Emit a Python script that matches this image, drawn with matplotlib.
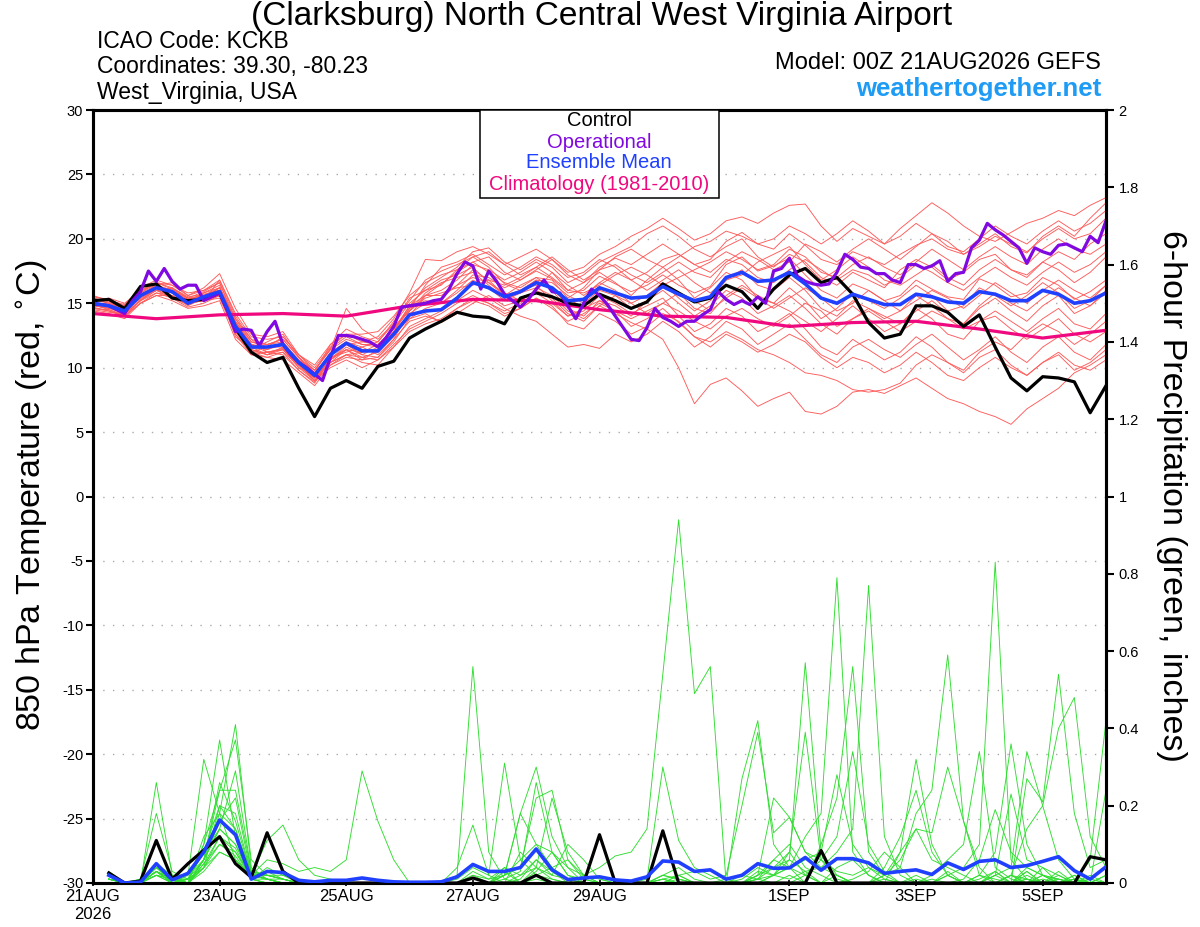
import numpy as np
import matplotlib
matplotlib.use('Agg')
import matplotlib.pyplot as plt
from matplotlib.patches import Rectangle

plt.rcParams['font.family'] = ['Liberation Sans', 'DejaVu Sans']
plt.rcParams['axes.unicode_minus'] = False

# Time axis: forecast hours from 00Z 21AUG2026
tick_hours = [0, 48, 96, 144, 192, 264, 312, 360]
tick_labels = ['21AUG\n2026', '23AUG', '25AUG', '27AUG', '29AUG', '1SEP', '3SEP', '5SEP']

# 850 hPa temperature, 6-hourly (65 values, 0h..384h)
control_t = [15.2, 15.3, 14.6, 16.3, 16.5, 15.4, 15.2, 15.3, 15.8, 13.1, 11.2, 10.4, 10.8, 8.4, 6.2, 8.4,
             9.0, 8.4, 10.1, 10.5, 12.3, 13.0, 13.6, 14.3, 14.0, 13.9, 13.4, 15.4, 15.8, 15.5, 15.0, 14.8,
             15.7, 15.2, 14.6, 15.1, 16.5, 15.8, 15.1, 15.4, 16.4, 15.9, 14.6, 16.1, 17.2, 17.7, 16.6, 17.0,
             15.7, 13.5, 12.3, 12.6, 14.8, 14.8, 14.3, 13.2, 14.1, 11.6, 9.2, 8.2, 9.3, 9.2, 8.9, 6.5, 8.6]

mean_t = [15.0, 14.8, 14.4, 15.6, 16.2, 15.9, 15.0, 15.5, 15.9, 13.2, 11.6, 11.6, 11.8, 10.4, 9.4, 11.0,
          11.9, 11.3, 11.3, 12.6, 14.1, 14.4, 14.5, 15.4, 16.6, 16.2, 15.5, 15.9, 16.6, 16.2, 15.2, 15.3,
          16.2, 15.8, 15.4, 15.5, 16.3, 15.7, 15.2, 15.5, 17.0, 17.4, 16.7, 16.8, 17.4, 16.5, 15.4, 15.0,
          15.7, 15.3, 14.9, 14.9, 15.7, 15.5, 15.1, 15.0, 15.9, 15.7, 15.2, 15.2, 16.0, 15.7, 15.0, 15.2, 15.8]

# operational run, 3-hourly (129 values)
oper_t = [14.9, 14.9, 14.8, 14.5, 14.2, 15.2, 15.9, 17.5, 16.7, 17.7, 16.7, 16.1, 16.4, 16.4, 15.2, 15.5,
          15.8, 14.4, 12.8, 13.0, 12.9, 11.7, 12.8, 13.6, 11.8, 11.0, 10.4, 10.0, 9.5, 9.0, 10.8, 12.5,
          12.5, 12.4, 12.2, 12.0, 11.6, 12.3, 13.2, 14.7, 14.8, 14.9, 15.0, 15.2, 15.3, 16.1, 17.3, 18.2,
          17.9, 16.1, 17.5, 16.7, 15.7, 15.2, 14.7, 15.3, 16.1, 16.8, 15.9, 15.8, 14.8, 13.8, 15.0, 16.1,
          15.6, 14.9, 14.0, 13.1, 12.2, 12.1, 13.1, 14.6, 13.9, 13.6, 13.2, 13.6, 13.6, 14.1, 14.5, 15.9,
          15.3, 14.9, 15.2, 14.9, 15.5, 15.0, 17.5, 17.7, 18.5, 17.1, 16.7, 16.5, 16.4, 16.5, 17.4, 18.8,
          18.4, 17.8, 17.7, 17.3, 17.3, 16.8, 16.6, 18.0, 18.0, 17.7, 17.9, 18.3, 16.7, 17.3, 17.4, 19.3,
          19.9, 21.2, 20.7, 20.3, 19.8, 19.3, 18.1, 19.3, 19.0, 18.8, 19.5, 19.6, 19.3, 19.0, 20.2, 19.7, 21.4]

# climatology, daily at 00Z (17 values)
clim_t = [14.2, 13.8, 14.1, 14.2, 14.0, 14.8, 15.3, 15.2, 14.5, 14.0, 13.9, 13.2, 13.5, 13.6, 13.0, 12.3, 12.9]

# ensemble members (6-hourly, 65 values each)
mem01 = [15.3, 15.0, 14.6, 15.8, 16.4, 16.0, 15.3, 15.6, 16.2, 13.8, 12.0, 11.8, 12.2, 10.8, 9.8, 11.5, 12.4,
         11.8, 11.6, 13.0, 14.6, 15.2, 15.0, 16.0, 17.2, 17.0, 16.2, 16.8, 17.5, 16.9, 15.8, 16.0, 17.1,
         16.5, 15.9, 16.4, 17.2, 16.4, 15.8, 16.3, 18.0, 18.6, 17.5, 17.9, 18.5, 17.2, 16.0, 15.4, 16.5,
         16.0, 15.2, 15.6, 16.8, 16.1, 15.5, 15.3, 16.9, 16.4, 15.5, 15.8, 17.0, 16.4, 15.3, 15.9, 16.8]
mem02 = [14.8, 14.6, 14.2, 15.2, 16.0, 16.2, 15.0, 15.2, 16.8, 14.0, 12.2, 11.2, 11.5, 10.2, 9.2, 10.4, 11.0,
         11.2, 11.8, 12.6, 14.0, 15.6, 16.5, 17.4, 18.2, 18.6, 17.4, 16.8, 17.6, 18.4, 17.2, 16.6, 17.8,
         18.5, 18.0, 18.8, 19.6, 18.8, 18.0, 18.4, 19.8, 20.5, 19.6, 19.2, 20.4, 19.5, 18.4, 18.0, 19.0,
         18.5, 18.0, 18.8, 19.5, 20.0, 19.2, 18.8, 19.6, 20.4, 19.4, 18.9, 20.2, 21.0, 20.2, 21.6, 22.8]
mem03 = [15.0, 14.8, 14.8, 16.0, 16.6, 16.1, 15.4, 15.2, 15.4, 12.6, 11.0, 11.2, 11.0, 9.8, 8.8, 10.6, 11.8,
         11.0, 10.8, 12.0, 13.8, 14.2, 13.5, 14.2, 15.0, 15.6, 14.8, 15.2, 16.0, 15.4, 14.2, 13.6, 14.8,
         14.2, 13.5, 13.0, 12.2, 10.0, 7.2, 8.7, 9.2, 8.2, 7.0, 7.6, 8.1, 6.6, 6.4, 7.0, 8.1,
         8.3, 8.0, 8.6, 9.2, 8.4, 7.6, 7.2, 6.6, 6.2, 5.6, 6.8, 7.6, 8.4, 9.6, 10.2, 11.0]
mem04 = [15.6, 15.2, 14.9, 16.2, 16.8, 16.4, 15.8, 16.0, 16.6, 13.5, 11.8, 11.4, 12.0, 10.6, 9.6, 11.8, 13.0,
         12.4, 12.0, 13.6, 15.2, 16.8, 17.5, 18.0, 18.6, 17.8, 16.5, 16.0, 16.4, 15.2, 14.0, 14.6, 15.2,
         14.4, 13.2, 13.8, 14.6, 13.5, 12.4, 12.0, 12.8, 12.2, 11.4, 11.0, 10.4, 9.6, 9.4, 9.0, 8.3,
         8.1, 8.3, 8.8, 10.2, 11.0, 10.4, 9.8, 11.2, 12.0, 11.4, 12.6, 13.4, 12.8, 11.8, 12.6, 13.6]
mem05 = [15.2, 15.4, 15.0, 16.0, 16.4, 16.6, 15.6, 16.2, 17.3, 14.6, 12.6, 12.4, 12.8, 11.0, 10.0, 11.6, 12.6,
         12.0, 12.4, 13.8, 15.8, 18.4, 18.3, 19.0, 19.4, 18.8, 18.0, 18.6, 19.2, 18.4, 17.4, 17.8, 18.8,
         19.4, 20.2, 20.8, 21.6, 20.8, 19.9, 20.4, 21.4, 21.7, 21.2, 22.0, 22.6, 22.7, 21.0, 19.8, 20.8,
         20.2, 19.6, 20.8, 21.8, 22.8, 22.0, 21.0, 20.2, 19.8, 20.5, 21.2, 21.6, 22.2, 21.8, 22.6, 23.2]
mem06 = [14.6, 14.5, 14.0, 15.0, 15.8, 15.6, 14.8, 15.4, 16.0, 13.4, 11.6, 11.0, 11.4, 10.4, 9.0, 10.8, 11.4,
         10.6, 11.4, 12.8, 14.8, 16.2, 17.0, 17.8, 19.0, 19.3, 18.2, 17.6, 18.4, 17.8, 16.6, 17.2, 18.2,
         18.8, 19.4, 20.4, 21.0, 20.2, 19.2, 18.6, 19.4, 20.0, 18.6, 17.8, 18.8, 18.2, 17.0, 16.4, 17.4,
         16.8, 16.2, 17.6, 18.4, 17.8, 16.8, 17.4, 18.4, 18.8, 17.6, 17.0, 18.2, 19.0, 18.4, 19.6, 20.4]
mem07 = [14.4, 14.2, 13.8, 15.0, 15.6, 15.2, 14.6, 14.8, 15.2, 12.2, 11.0, 10.8, 10.6, 9.6, 8.6, 10.2, 11.0,
         10.4, 10.2, 11.6, 13.2, 13.8, 14.4, 15.2, 16.0, 15.4, 14.6, 14.0, 13.6, 12.6, 11.6, 11.8, 11.5,
         12.6, 12.0, 12.6, 13.6, 12.8, 11.6, 12.4, 13.6, 13.0, 11.8, 12.6, 13.4, 12.2, 11.0, 10.4, 11.6,
         12.2, 11.4, 10.8, 11.8, 12.6, 11.6, 10.6, 11.4, 12.4, 11.2, 10.4, 11.6, 12.4, 11.2, 10.6, 11.8]
mem08 = [15.4, 15.1, 14.5, 15.6, 16.2, 15.8, 15.1, 15.8, 16.4, 13.0, 11.4, 11.0, 11.6, 10.0, 9.4, 11.2, 12.0,
         11.4, 11.2, 12.4, 14.2, 15.0, 15.4, 16.4, 17.6, 16.8, 15.6, 16.4, 17.0, 16.2, 14.8, 15.4, 16.6,
         16.0, 15.0, 15.6, 16.6, 15.4, 14.4, 15.2, 16.8, 17.6, 16.4, 16.0, 17.0, 16.0, 14.6, 14.0, 15.2,
         14.6, 13.8, 14.4, 15.6, 14.8, 13.8, 13.4, 14.6, 15.4, 14.4, 13.6, 14.8, 15.6, 14.2, 14.8, 16.0]
mem09 = [15.0, 14.9, 14.4, 15.4, 16.0, 15.4, 14.9, 15.3, 15.6, 12.8, 11.2, 11.6, 12.4, 11.0, 9.8, 11.4, 14.6,
         13.0, 12.2, 13.4, 15.0, 16.0, 16.8, 17.2, 17.8, 16.6, 15.8, 15.2, 16.0, 17.4, 16.4, 15.6, 16.6,
         17.4, 16.8, 16.0, 16.8, 17.6, 16.6, 15.8, 16.8, 17.2, 18.2, 18.8, 19.4, 18.0, 16.8, 17.6, 18.6,
         17.8, 16.8, 16.4, 17.2, 18.0, 17.0, 16.4, 17.6, 18.4, 17.6, 17.2, 18.2, 17.6, 16.6, 17.4, 18.6]
mem10 = [15.2, 14.7, 14.3, 15.4, 16.2, 16.0, 15.2, 15.5, 15.8, 12.4, 11.4, 12.0, 12.6, 10.8, 9.4, 10.8, 11.2,
         11.6, 11.0, 12.2, 13.6, 14.0, 13.6, 14.6, 15.4, 15.0, 14.4, 15.0, 15.8, 15.0, 14.0, 14.4, 15.6,
         15.0, 14.2, 14.8, 15.4, 14.0, 12.8, 13.4, 14.6, 14.0, 12.8, 13.4, 14.2, 13.0, 11.6, 11.0, 12.2,
         11.4, 10.6, 11.2, 12.4, 11.6, 10.4, 9.6, 10.8, 11.4, 10.2, 9.4, 10.4, 11.0, 9.8, 10.4, 11.4]
mem11 = [14.9, 14.6, 14.6, 15.8, 16.6, 16.2, 15.4, 15.6, 16.0, 13.6, 11.8, 11.4, 11.8, 10.6, 9.2, 10.6, 11.6,
         11.0, 11.6, 13.2, 14.4, 15.6, 16.0, 16.8, 18.0, 17.6, 16.8, 17.4, 18.2, 17.4, 16.0, 16.6, 17.4,
         16.6, 15.6, 16.8, 17.8, 16.8, 15.4, 16.2, 17.4, 16.8, 15.4, 15.0, 16.2, 15.2, 13.8, 14.6, 15.8,
         15.2, 14.6, 15.4, 16.4, 15.6, 14.4, 14.8, 16.2, 15.6, 14.8, 15.6, 16.6, 15.8, 14.6, 15.2, 16.4]
mem12 = [15.5, 15.3, 14.8, 15.6, 16.0, 15.6, 15.0, 15.2, 15.6, 13.0, 11.6, 11.8, 12.0, 10.4, 9.6, 11.0, 11.8,
         12.0, 11.8, 13.0, 14.4, 15.4, 15.8, 16.2, 16.4, 16.8, 16.4, 17.0, 17.8, 17.0, 16.0, 15.8, 16.4,
         17.2, 17.8, 17.2, 16.4, 17.0, 17.6, 18.2, 19.0, 18.4, 17.6, 18.0, 19.2, 18.6, 17.4, 17.0, 18.0,
         18.6, 17.8, 17.2, 18.2, 19.2, 18.4, 17.6, 18.6, 19.4, 18.6, 18.0, 19.2, 20.0, 19.2, 18.8, 19.6]
mem13 = [14.7, 14.4, 14.0, 15.2, 16.2, 15.8, 15.2, 15.8, 16.2, 13.2, 11.4, 11.0, 11.2, 9.8, 8.9, 10.2, 10.8,
         10.6, 10.8, 12.2, 14.4, 15.8, 16.6, 17.0, 17.4, 16.4, 15.4, 15.8, 16.8, 16.0, 14.6, 14.0, 15.2,
         14.8, 14.0, 15.2, 16.4, 15.8, 14.6, 14.2, 15.6, 16.4, 15.6, 15.0, 14.4, 13.6, 12.8, 13.8, 14.8,
         13.8, 12.8, 13.4, 14.6, 13.8, 12.6, 12.2, 13.6, 14.4, 13.6, 12.8, 13.8, 14.6, 13.4, 13.0, 14.2]
mem14 = [15.1, 14.8, 14.7, 15.9, 16.6, 16.4, 15.6, 16.0, 16.8, 14.2, 12.4, 12.2, 12.4, 11.0, 10.2, 11.8, 12.6,
         12.6, 12.8, 14.0, 15.6, 16.6, 17.2, 17.6, 18.2, 17.4, 16.6, 16.2, 17.0, 16.8, 15.4, 16.2, 17.6,
         18.0, 17.2, 16.6, 17.4, 18.2, 17.4, 17.0, 18.2, 19.0, 18.4, 17.6, 18.2, 19.6, 19.0, 18.2, 19.2,
         20.0, 19.2, 18.4, 19.4, 20.4, 19.8, 18.8, 19.4, 20.2, 19.6, 19.0, 20.0, 20.8, 20.0, 20.4, 21.6]
mem15 = [14.5, 14.3, 14.2, 15.2, 15.8, 15.4, 14.7, 15.0, 15.6, 12.8, 11.2, 10.8, 11.2, 10.2, 9.0, 10.0, 10.6,
         10.0, 10.6, 11.8, 13.0, 13.6, 14.2, 15.0, 15.6, 15.0, 14.2, 14.6, 15.4, 14.6, 13.6, 14.2, 15.0,
         14.4, 13.8, 14.4, 15.0, 14.4, 13.6, 13.0, 14.0, 14.6, 13.8, 13.2, 14.0, 15.0, 14.4, 13.2, 13.8,
         14.4, 13.6, 12.8, 13.6, 14.4, 13.8, 13.0, 13.6, 14.0, 13.0, 12.2, 13.0, 13.8, 12.6, 12.0, 12.8]
mem16 = [15.3, 15.2, 14.6, 15.5, 16.0, 16.2, 15.5, 15.7, 16.0, 13.4, 11.8, 11.6, 11.8, 10.6, 9.8, 11.4, 12.2,
         11.8, 11.8, 13.0, 14.8, 15.6, 15.6, 16.4, 17.0, 16.6, 15.6, 16.0, 16.8, 16.6, 15.6, 15.0, 16.0,
         15.6, 14.6, 15.2, 16.0, 15.0, 14.0, 14.8, 16.0, 15.4, 14.2, 14.8, 15.6, 14.6, 13.4, 12.6, 13.8,
         14.6, 14.0, 13.4, 14.4, 15.2, 14.2, 13.4, 14.8, 15.8, 15.0, 14.4, 15.4, 16.2, 15.4, 14.8, 15.8]
mem17 = [14.9, 14.5, 14.1, 15.3, 16.0, 15.8, 15.0, 15.4, 16.2, 13.6, 12.0, 11.6, 11.6, 10.2, 9.2, 10.6, 11.4,
         11.2, 11.4, 12.8, 14.6, 16.4, 17.8, 18.2, 18.8, 18.0, 17.2, 17.8, 18.6, 18.0, 17.0, 17.4, 18.4,
         17.8, 16.8, 17.4, 18.4, 18.8, 18.0, 17.4, 18.4, 18.0, 17.0, 16.6, 17.6, 18.4, 17.6, 16.8, 17.6,
         17.2, 16.4, 17.0, 18.0, 17.4, 16.6, 16.0, 17.0, 17.8, 17.0, 16.4, 17.4, 18.2, 17.4, 18.0, 19.0]
mem18 = [15.4, 15.0, 14.5, 15.7, 16.3, 15.9, 15.2, 15.4, 16.2, 13.4, 11.8, 11.2, 11.4, 10.2, 9.0, 10.4, 11.4,
         10.8, 11.2, 12.6, 13.8, 14.6, 15.0, 15.8, 16.8, 16.2, 15.2, 15.8, 16.2, 15.6, 14.4, 13.8, 14.8,
         15.6, 15.0, 14.2, 15.0, 15.8, 15.2, 14.4, 15.4, 16.2, 15.4, 14.6, 15.4, 16.2, 15.4, 14.4, 15.0,
         16.0, 15.2, 14.4, 15.2, 16.0, 15.4, 14.6, 15.6, 16.6, 15.8, 15.0, 16.0, 16.8, 16.0, 15.4, 16.4]
mem19 = [15.0, 15.0, 14.4, 15.6, 16.4, 16.0, 15.4, 15.9, 16.6, 13.8, 12.2, 11.8, 12.2, 10.8, 9.6, 11.0, 12.0,
         11.6, 12.0, 13.4, 15.4, 16.0, 16.4, 17.6, 18.6, 19.0, 18.0, 17.2, 17.8, 18.6, 17.6, 16.8, 17.6,
         18.6, 19.2, 18.4, 17.8, 18.6, 19.4, 19.8, 20.6, 20.2, 19.6, 20.0, 21.0, 20.4, 19.6, 20.4, 21.4,
         20.6, 19.6, 20.2, 21.2, 20.4, 19.4, 19.0, 20.0, 21.0, 20.2, 19.6, 20.6, 21.4, 20.6, 21.2, 22.2]
mem20 = [14.6, 14.4, 14.0, 15.0, 15.6, 15.6, 15.0, 15.2, 15.6, 12.6, 11.2, 11.2, 11.4, 10.0, 9.0, 10.4, 11.0,
         10.8, 10.6, 11.6, 12.8, 13.4, 13.8, 14.6, 15.2, 14.8, 14.0, 14.6, 15.4, 14.8, 13.4, 13.0, 14.2,
         13.6, 12.6, 13.2, 14.2, 13.6, 12.4, 11.6, 12.6, 12.0, 11.2, 11.8, 12.6, 12.0, 10.8, 10.0, 10.8,
         10.4, 9.6, 10.2, 11.2, 10.4, 9.4, 9.0, 10.0, 10.8, 10.0, 9.4, 10.4, 11.2, 10.2, 9.8, 10.6]

# 6-hour precipitation (inches), 6h..384h (64 values)
control_p = [0.026, 0, 0.005, 0.11, 0.01, 0.05, 0.085, 0.12, 0.05, 0.015, 0.13, 0.03, 0, 0, 0, 0,
             0, 0, 0, 0, 0, 0, 0, 0.013, 0, 0, 0, 0.02, 0, 0, 0, 0.125,
             0, 0, 0, 0.135, 0, 0, 0, 0, 0, 0, 0, 0, 0, 0.084, 0, 0,
             0, 0, 0, 0, 0, 0, 0, 0, 0, 0, 0, 0, 0, 0, 0.068, 0.06]
mean_p = [0.02, 0, 0.002, 0.05, 0.008, 0.025, 0.08, 0.163, 0.125, 0.01, 0.03, 0.027, 0.007, 0.003, 0.007, 0.007,
          0.013, 0.007, 0.003, 0.002, 0.002, 0.003, 0.016, 0.048, 0.03, 0.03, 0.04, 0.088, 0.034, 0.009, 0.013, 0.016,
          0.008, 0.005, 0.016, 0.057, 0.054, 0.03, 0.034, 0.01, 0.02, 0.05, 0.038, 0.039, 0.066, 0.033, 0.063, 0.063,
          0.052, 0.025, 0.03, 0.034, 0.022, 0.052, 0.035, 0.056, 0.06, 0.04, 0.045, 0.056, 0.068, 0.032, 0.01, 0.042]

# member precipitation in hundredths of an inch
prc01 = [2, 0, 0, 26, 2, 0, 6, 14, 10, 1, 4, 2, 0, 0, 0, 0, 0, 0, 0, 0, 0, 0, 0, 2, 1, 4, 2, 6, 3, 0, 0, 0,
         0, 0, 0, 2, 4, 1, 0, 0, 0, 2, 4, 6, 57, 8, 2, 0, 0, 0, 0, 2, 0, 0, 0, 1, 3, 0, 0, 2, 1, 0, 0, 0]
prc02 = [1, 0, 1, 18, 3, 1, 8, 20, 14, 2, 2, 1, 0, 0, 0, 0, 0, 0, 0, 0, 0, 0, 1, 4, 2, 0, 8, 4, 2, 1, 0, 0,
         0, 0, 0, 1, 2, 0, 0, 0, 1, 4, 2, 8, 39, 6, 1, 0, 0, 1, 0, 0, 0, 3, 0, 2, 1, 0, 4, 2, 0, 1, 0, 2]
prc03 = [3, 0, 0, 4, 0, 2, 32, 18, 6, 2, 1, 0, 0, 0, 0, 0, 0, 0, 0, 0, 0, 0, 0, 0, 0, 2, 18, 10, 4, 1, 0, 0,
         0, 0, 0, 2, 1, 0, 0, 0, 0, 2, 6, 4, 12, 18, 79, 8, 2, 0, 0, 0, 1, 0, 0, 0, 2, 0, 3, 0, 0, 1, 0, 0]
prc04 = [2, 0, 0, 5, 1, 1, 10, 37, 12, 3, 2, 1, 0, 0, 0, 0, 0, 0, 0, 0, 0, 0, 0, 0, 0, 1, 3, 26, 8, 2, 0, 0,
         0, 0, 0, 0, 2, 0, 0, 1, 0, 3, 2, 4, 6, 8, 28, 10, 4, 1, 0, 0, 0, 2, 0, 0, 0, 2, 1, 0, 2, 0, 6, 42]
prc05 = [1, 0, 0, 3, 0, 0, 12, 18, 41, 4, 1, 0, 0, 0, 0, 0, 0, 0, 0, 0, 0, 0, 0, 0, 0, 0, 2, 4, 1, 0, 0, 0,
         0, 0, 0, 1, 0, 0, 0, 0, 0, 1, 2, 4, 0, 10, 22, 56, 8, 2, 0, 1, 0, 0, 0, 0, 3, 0, 0, 1, 0, 2, 0, 0]
prc06 = [2, 0, 0, 4, 1, 0, 6, 24, 37, 6, 2, 1, 0, 0, 0, 0, 0, 0, 0, 0, 0, 0, 0, 0, 0, 0, 0, 4, 22, 8, 2, 0,
         0, 0, 0, 0, 0, 0, 0, 0, 0, 1, 4, 8, 2, 6, 12, 34, 10, 3, 0, 0, 0, 0, 0, 0, 0, 2, 0, 0, 3, 0, 0, 24]
prc07 = [1, 0, 0, 3, 0, 1, 8, 14, 29, 3, 1, 0, 0, 0, 0, 0, 0, 0, 0, 0, 0, 0, 0, 0, 0, 0, 0, 0, 0, 0, 0, 0,
         0, 0, 0, 0, 0, 0, 0, 0, 0, 0, 2, 6, 3, 4, 8, 14, 77, 12, 2, 0, 0, 0, 0, 0, 0, 0, 1, 0, 0, 0, 2, 0]
prc08 = [2, 0, 0, 5, 2, 2, 6, 26, 16, 2, 3, 1, 0, 0, 0, 0, 0, 0, 0, 0, 0, 0, 0, 0, 0, 3, 0, 2, 4, 6, 2, 0,
         0, 0, 0, 1, 0, 0, 0, 0, 0, 0, 0, 2, 0, 0, 4, 6, 2, 0, 8, 32, 10, 2, 0, 0, 0, 2, 0, 4, 0, 0, 1, 0]
prc09 = [1, 0, 1, 4, 1, 0, 10, 24, 24, 3, 2, 2, 1, 0, 0, 0, 0, 0, 0, 0, 0, 0, 0, 0, 0, 0, 1, 6, 2, 10, 6, 1,
         0, 0, 0, 2, 1, 0, 0, 0, 0, 0, 2, 1, 3, 0, 2, 0, 0, 4, 12, 24, 8, 2, 0, 0, 0, 0, 3, 0, 0, 1, 0, 0]
prc10 = [2, 0, 0, 3, 1, 0, 4, 12, 8, 2, 11, 15, 6, 2, 1, 0, 0, 0, 0, 0, 0, 0, 0, 0, 0, 0, 0, 0, 0, 0, 0, 0,
         0, 0, 0, 0, 0, 0, 0, 0, 0, 0, 0, 0, 0, 0, 0, 1, 3, 8, 4, 18, 24, 59, 16, 2, 0, 0, 1, 0, 0, 0, 0, 0]
prc11 = [1, 0, 0, 2, 0, 0, 3, 8, 6, 2, 6, 5, 3, 4, 3, 6, 29, 16, 6, 0, 0, 0, 0, 0, 0, 0, 0, 0, 0, 0, 0, 0,
         0, 0, 0, 0, 0, 0, 0, 0, 0, 0, 0, 0, 0, 0, 0, 0, 0, 2, 6, 14, 13, 30, 16, 4, 0, 0, 2, 0, 1, 0, 0, 0]
prc12 = [1, 0, 0, 3, 1, 0, 5, 10, 8, 1, 0, 0, 0, 0, 0, 0, 0, 0, 0, 0, 0, 0, 2, 56, 8, 1, 0, 2, 0, 0, 0, 0,
         0, 0, 0, 0, 0, 0, 0, 0, 0, 0, 0, 0, 2, 0, 0, 0, 0, 0, 0, 0, 2, 6, 10, 34, 4, 1, 0, 2, 0, 0, 0, 0]
prc13 = [2, 0, 0, 2, 0, 1, 6, 14, 10, 2, 1, 0, 0, 0, 0, 0, 0, 0, 0, 0, 0, 0, 4, 15, 2, 31, 6, 2, 1, 0, 0, 0,
         0, 0, 0, 0, 0, 0, 0, 0, 0, 0, 0, 0, 0, 0, 0, 0, 0, 0, 0, 0, 0, 2, 4, 10, 83, 6, 1, 0, 0, 2, 0, 0]
prc14 = [1, 0, 0, 4, 1, 0, 4, 20, 18, 2, 2, 1, 0, 0, 0, 0, 0, 0, 0, 0, 0, 0, 0, 3, 1, 2, 18, 30, 12, 4, 0, 0,
         0, 0, 0, 0, 0, 0, 0, 0, 0, 0, 0, 0, 0, 0, 0, 0, 0, 0, 0, 0, 0, 0, 1, 6, 19, 8, 4, 2, 1, 0, 0, 0]
prc15 = [2, 0, 0, 3, 1, 0, 6, 16, 22, 2, 1, 0, 0, 0, 0, 0, 0, 0, 0, 0, 0, 0, 0, 2, 0, 2, 4, 22, 24, 6, 1, 0,
         0, 0, 0, 0, 0, 0, 0, 0, 0, 0, 0, 0, 0, 0, 0, 0, 0, 0, 0, 0, 0, 0, 0, 2, 8, 36, 10, 2, 0, 0, 0, 0]
prc16 = [1, 0, 0, 2, 1, 1, 4, 8, 6, 1, 1, 0, 0, 0, 0, 0, 0, 0, 0, 0, 0, 0, 0, 0, 0, 0, 0, 0, 0, 0, 2, 4,
         7, 8, 14, 54, 94, 49, 56, 0, 2, 1, 0, 0, 0, 0, 0, 0, 0, 0, 0, 0, 0, 0, 0, 0, 2, 4, 34, 20, 6, 1, 0, 2]
prc17 = [2, 0, 0, 3, 0, 0, 5, 12, 9, 1, 0, 0, 0, 0, 0, 0, 0, 0, 0, 0, 0, 0, 0, 0, 0, 0, 0, 1, 0, 0, 0, 0,
         0, 0, 1, 30, 11, 4, 2, 0, 27, 42, 10, 4, 2, 0, 0, 0, 0, 0, 0, 0, 0, 0, 0, 0, 0, 0, 27, 21, 54, 18, 4, 6]
prc18 = [1, 0, 0, 2, 1, 0, 4, 10, 7, 1, 0, 0, 0, 0, 0, 0, 0, 0, 0, 0, 0, 0, 0, 0, 0, 0, 0, 0, 0, 0, 0, 0,
         0, 0, 0, 0, 2, 3, 1, 2, 20, 39, 13, 17, 8, 4, 2, 0, 0, 0, 0, 0, 0, 0, 0, 0, 0, 2, 14, 20, 40, 48, 12, 4]
prc19 = [2, 0, 0, 3, 0, 1, 8, 16, 12, 2, 1, 0, 0, 0, 0, 0, 0, 0, 0, 0, 0, 0, 0, 0, 0, 4, 0, 3, 8, 2, 1, 0,
         0, 0, 0, 0, 0, 0, 0, 0, 0, 2, 22, 17, 8, 6, 3, 2, 4, 2, 8, 14, 6, 4, 2, 0, 2, 23, 6, 4, 2, 0, 0, 0]
prc20 = [1, 0, 0, 4, 1, 0, 6, 18, 14, 2, 1, 1, 0, 0, 0, 0, 0, 0, 0, 0, 0, 0, 0, 0, 0, 2, 6, 10, 8, 4, 2, 1,
         0, 0, 0, 0, 1, 0, 0, 0, 0, 1, 6, 10, 4, 2, 0, 0, 0, 2, 4, 0, 0, 0, 0, 0, 0, 0, 0, 0, 0, 0, 1, 0]

temp_members = [mem01, mem02, mem03, mem04, mem05, mem06, mem07, mem08, mem09, mem10,
                mem11, mem12, mem13, mem14, mem15, mem16, mem17, mem18, mem19, mem20]
prec_members = [prc01, prc02, prc03, prc04, prc05, prc06, prc07, prc08, prc09, prc10,
                prc11, prc12, prc13, prc14, prc15, prc16, prc17, prc18, prc19, prc20]

# hour vectors
h6 = 6 * np.arange(len(mean_t))
h3 = 3 * np.arange(len(oper_t))
h24 = 24 * np.arange(len(clim_t))
hp = 6 * np.arange(1, len(mean_p) + 1)

fig = plt.figure(figsize=(12, 9.27), dpi=100)
ax = fig.add_axes([93 / 1200, 44 / 927, 1013 / 1200, 773 / 927])

# ensemble members
for m in temp_members:
    ax.plot(h6, m, color='#ff5a5a', lw=0.65, zorder=2)

ax.plot(h24, clim_t, color='#f0087f', lw=2.3, zorder=4)
ax.plot(h6, control_t, color='black', lw=2.3, zorder=5)
ax.plot(h3, oper_t, color='#8008e0', lw=2.3, zorder=6)
ax.plot(h6, mean_t, color='#2040ff', lw=2.6, zorder=7)

ax.set_xlim(0, 384)
ax.set_ylim(-30, 30)
ax.set_yticks(np.arange(-30, 31, 5))
ax.set_yticklabels([str(v) for v in range(-30, 31, 5)], fontsize=10.5)
for g in range(-25, 30, 5):
    ax.axhline(g, color='#aaaaaa', lw=1, ls=(0, (1, 6)), zorder=1)
ax.set_xticks(tick_hours)
ax.set_xticklabels(tick_labels, fontsize=12, linespacing=1.2)
ax.tick_params(axis='y', direction='out', length=5, width=1.5, pad=2)
ax.tick_params(axis='x', direction='inout', length=5, width=1.2, pad=2)
for s in ax.spines.values():
    s.set_linewidth(2.2)

# precipitation on the right axis
ax2 = ax.twinx()
for p in prec_members:
    ax2.plot(hp, np.array(p) / 100.0, color='#30dd30', lw=0.65, zorder=2)
ax2.plot(hp, control_p, color='black', lw=2.3, zorder=5)
ax2.plot(hp, mean_p, color='#2040ff', lw=2.6, zorder=6)
ax2.set_ylim(0, 2)
ax2.set_xlim(0, 384)
ptick = np.round(np.arange(0, 2.01, 0.2), 1)
ax2.set_yticks(ptick)
ax2.set_yticklabels(['0', '0.2', '0.4', '0.6', '0.8', '1', '1.2', '1.4', '1.6', '1.8', '2'], fontsize=10.5)
ax2.tick_params(axis='y', direction='out', length=6, width=1.5, pad=3)
for s in ax2.spines.values():
    s.set_linewidth(2.2)

# legend box
fig.patches.append(Rectangle((480 / 1200, 1 - 198 / 927), 239 / 1200, 88 / 927,
                             transform=fig.transFigure, facecolor='white', edgecolor='black',
                             lw=1.1, zorder=20))
leg_items = [('Control', 'black', 121), ('Operational', '#8008e0', 142),
             ('Ensemble Mean', '#2040ff', 163), ('Climatology (1981-2010)', '#f0087f', 185)]
for txt, col, yy in leg_items:
    fig.text(599 / 1200, 1 - yy / 927, txt, color=col, fontsize=14.5, ha='center', va='center', zorder=21)

# header text
fig.text(0.501, 1 - 16 / 927, '(Clarksburg) North Central West Virginia Airport',
         fontsize=24, ha='center', va='center')
fig.text(97 / 1200, 1 - 42 / 927, 'ICAO Code: KCKB', fontsize=16.5, ha='left', va='center')
fig.text(97 / 1200, 1 - 67 / 927, 'Coordinates: 39.30, -80.23', fontsize=16.5, ha='left', va='center')
fig.text(97 / 1200, 1 - 92 / 927, 'West_Virginia, USA', fontsize=16.5, ha='left', va='center')
fig.text(1101 / 1200, 1 - 63 / 927, 'Model: 00Z 21AUG2026 GEFS', fontsize=17, ha='right', va='center')
fig.text(1101 / 1200, 1 - 89 / 927, 'weathertogether.net', fontsize=18.5, fontweight='bold',
         color='#1e9bf5', ha='right', va='center')

fig.text(33 / 1200, 1 - 495 / 927, r'850 hPa Temperature (red, $^{\circ}$C)', fontsize=24.5,
         rotation=90, ha='center', va='center')
fig.text(1172 / 1200, 1 - 496 / 927, '6-hour Precipitation (green, inches)', fontsize=24.5,
         rotation=270, ha='center', va='center')

fig.savefig('out.png', dpi=100)
